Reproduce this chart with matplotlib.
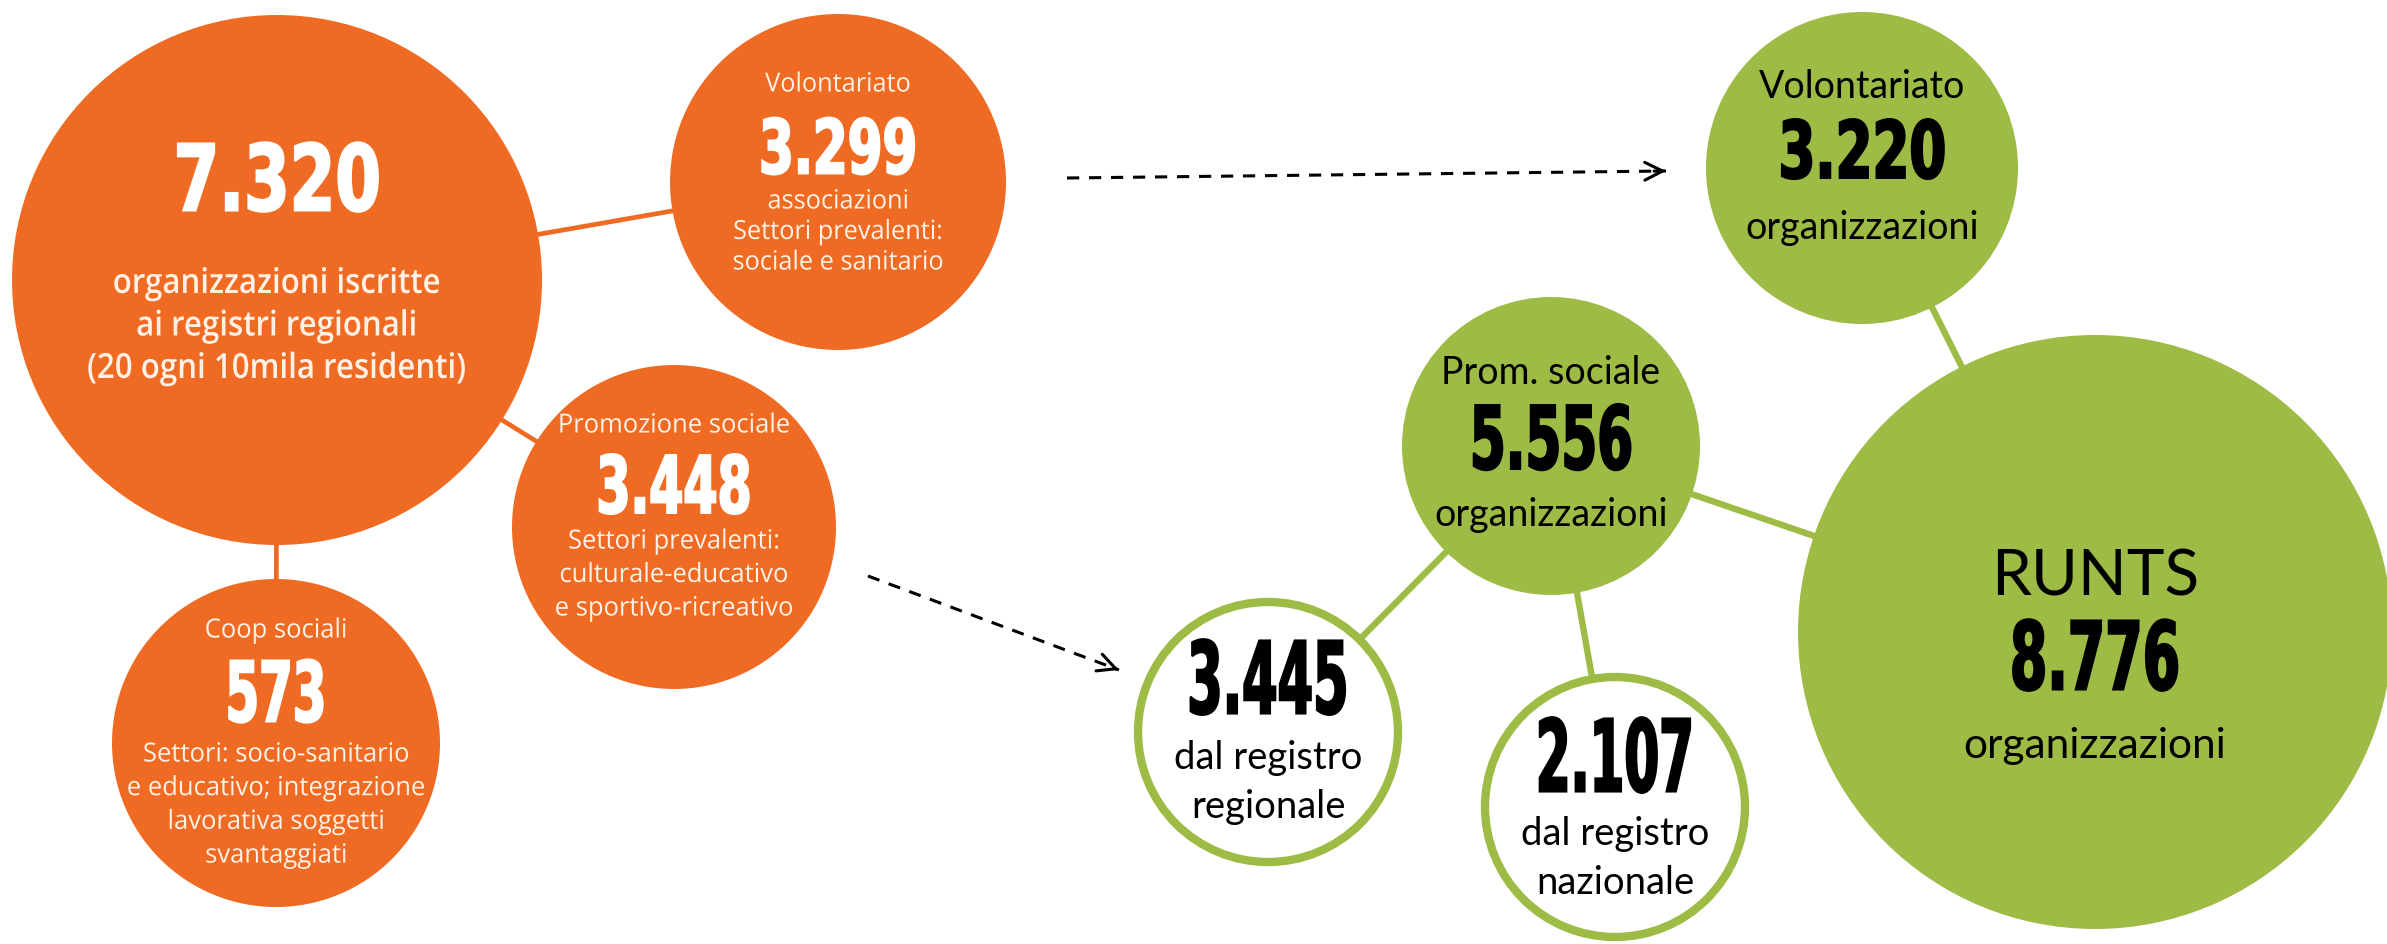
import matplotlib
matplotlib.use("Agg")
import matplotlib.pyplot as plt
from matplotlib.patches import Circle
from matplotlib.patheffects import AbstractPathEffect
from matplotlib.transforms import Affine2D

# ---------------- data ----------------
orange_titles = ["", "Volontariato", "Promozione sociale", "Coop sociali"]
orange_values = [7320, 3299, 3448, 573]
orange_notes = [
    ["organizzazioni iscritte", "ai registri regionali", "(20 ogni 10mila residenti)"],
    ["associazioni", "Settori prevalenti:", "sociale e sanitario"],
    ["Settori prevalenti:", "culturale-educativo", "e sportivo-ricreativo"],
    ["Settori: socio-sanitario", "e educativo; integrazione", "lavorativa soggetti", "svantaggiati"],
]
green_titles = ["Volontariato", "Prom. sociale", "RUNTS", "", ""]
green_values = [3220, 5556, 8776, 3445, 2107]
green_notes = [
    ["organizzazioni"],
    ["organizzazioni"],
    ["organizzazioni"],
    ["dal registro", "regionale"],
    ["dal registro", "nazionale"],
]

# ---------------- layout (pixels) ----------------
W, H = 2387, 944
ORANGE = "#EF6B23"
GREEN = "#9DBB45"
OTXT = "#FFF1E6"

orange_xy = [(277, 280), (838, 182), (674, 527), (276, 743)]
orange_r = [265, 168, 162, 164]
orange_edges = [(0, 1), (0, 2), (0, 3)]
# title_dy, value_dy, value_pt, value_sx, notes_dy, spacing, small_pt, notes_pt, notes_weight, notes_sx
orange_txt = [
    (0, -103, 66, 0.715, 4, 42.5, 19, 25, "semibold", 0.9),
    (-97, -36, 54, 0.667, 20, 30.5, 19, 19, "normal", 0.96),
    (-101, -43, 57, 0.62, 15, 33.5, 19, 19, "normal", 0.97),
    (-112, -52, 60, 0.58, 12, 33.7, 19, 19, "normal", 0.97),
]

green_xy = [(1862, 168), (1551, 446), (2095, 632), (1268, 732), (1615, 807)]
green_r = [156, 149, 297, 134, 134]
green_filled = [True, True, True, False, False]
green_edges = [(0, 2), (1, 2), (1, 3), (1, 4)]
# title_dy, value_dy, value_pt, value_sx, notes_dy, spacing, title_pt, notes_pt
green_txt = [
    (-81, -19, 57, 0.67, 60, 0, 27, 27),
    (-73, -9, 63, 0.59, 69, 0, 27, 27),
    (-54, 23, 68, 0.57, 114, 0, 46, 30.5),
    (0, -55, 72, 0.51, 26, 49, 27, 27.5),
    (0, -52, 72, 0.50, 27, 49, 27, 27.5),
]

arrows = [((1067, 178), (1666, 171)), ((868, 576), (1119, 670))]

NUM = ["DejaVu Sans"]
OFONT = ["Open Sans", "DejaVu Sans"]
GFONT = ["Lato", "DejaVu Sans"]


class Squeeze(AbstractPathEffect):
    """Narrow the glyphs horizontally about their own centre (optionally thicken)."""

    def __init__(self, sx, stroke=0.0):
        super().__init__()
        self.sx = sx
        self.stroke = stroke

    def draw_path(self, renderer, gc, tpath, affine, rgbFace=None):
        ext = tpath.get_extents()
        cx = 0.5 * (ext.x0 + ext.x1)
        t = Affine2D().translate(-cx, 0).scale(self.sx, 1.0).translate(cx, 0) + affine
        gc0 = renderer.new_gc()
        gc0.copy_properties(gc)
        if self.stroke and rgbFace is not None:
            gc0.set_linewidth(self.stroke)
            gc0.set_foreground(rgbFace)
            gc0.set_joinstyle("miter")
        renderer.draw_path(gc0, tpath, t, rgbFace)
        gc0.restore()


def fmt(v):
    return f"{v:,}".replace(",", ".")


def number(ax, x, yc, value, pt, sx, color):
    px = pt / 0.72
    ax.text(x, yc + 0.3645 * px, fmt(value), ha="center", va="baseline",
            fontsize=pt, color=color, family=NUM, fontweight="bold", zorder=3,
            path_effects=[Squeeze(sx, stroke=1.6)])


fig = plt.figure(figsize=(W / 100, H / 100), dpi=100)
ax = fig.add_axes([0, 0, 1, 1])
ax.set_xlim(0, W)
ax.set_ylim(H, 0)
ax.set_aspect("equal")
ax.axis("off")

# connectors
for a, b in orange_edges:
    (x0, y0), (x1, y1) = orange_xy[a], orange_xy[b]
    ax.plot([x0, x1], [y0, y1], color=ORANGE, lw=3.4, zorder=1, solid_capstyle="butt")
for a, b in green_edges:
    (x0, y0), (x1, y1) = green_xy[a], green_xy[b]
    ax.plot([x0, x1], [y0, y1], color=GREEN, lw=4.6, zorder=1, solid_capstyle="butt")

# orange bubbles
for i, ((cx, cy), r) in enumerate(zip(orange_xy, orange_r)):
    ax.add_patch(Circle((cx, cy), r, facecolor=ORANGE, edgecolor="none", zorder=2))
    tdy, vdy, vpt, vsx, ndy, sp, spt, npt, nw, nsx = orange_txt[i]
    sq = [Squeeze(nsx)]
    if orange_titles[i]:
        ax.text(cx, cy + tdy, orange_titles[i], ha="center", va="center",
                fontsize=spt, color=OTXT, family=OFONT, zorder=3, path_effects=sq)
    number(ax, cx, cy + vdy, orange_values[i], vpt, vsx, "white")
    for k, line in enumerate(orange_notes[i]):
        ax.text(cx, cy + ndy + k * sp, line, ha="center", va="center",
                fontsize=npt, color=OTXT, family=OFONT, fontweight=nw, zorder=3,
                path_effects=sq)

# green bubbles
for i, ((cx, cy), r) in enumerate(zip(green_xy, green_r)):
    if green_filled[i]:
        ax.add_patch(Circle((cx, cy), r, facecolor=GREEN, edgecolor="none", zorder=2))
    else:
        ax.add_patch(Circle((cx, cy), r - 4, facecolor="white", edgecolor=GREEN,
                            lw=6, zorder=2))
    tdy, vdy, vpt, vsx, ndy, sp, tpt, npt = green_txt[i]
    if green_titles[i]:
        ax.text(cx, cy + tdy, green_titles[i], ha="center", va="center",
                fontsize=tpt, color="black", family=GFONT, zorder=3)
    number(ax, cx, cy + vdy, green_values[i], vpt, vsx, "black")
    for k, line in enumerate(green_notes[i]):
        ax.text(cx, cy + ndy + k * sp, line, ha="center", va="center",
                fontsize=npt, color="black", family=GFONT, zorder=3)

# dashed arrows
for (x0, y0), (x1, y1) in arrows:
    ax.plot([x0, x1], [y0, y1], color="black", lw=2.2, ls=(0, (4, 3.2)), zorder=4)
    dx, dy = x1 - x0, y1 - y0
    ax.annotate("", xy=(x1, y1), xytext=(x1 - dx * 0.02, y1 - dy * 0.02),
                arrowprops=dict(arrowstyle="->", color="black", lw=2.2,
                                mutation_scale=32, shrinkA=0, shrinkB=0),
                zorder=4)

fig.savefig("out.png", dpi=100, facecolor="white")
